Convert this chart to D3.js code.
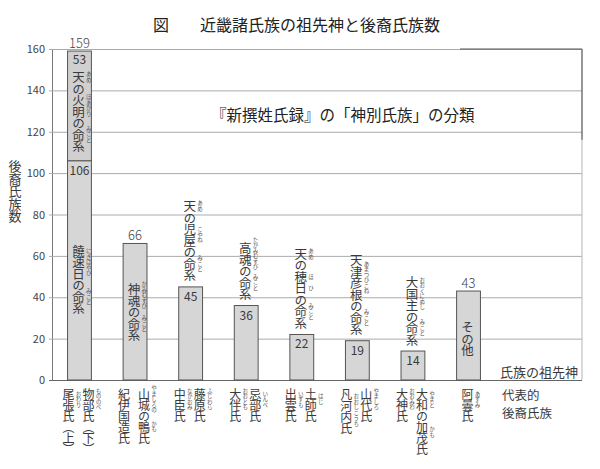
<!DOCTYPE html>
<html><head><meta charset="utf-8">
<script src="https://cdn.jsdelivr.net/npm/d3@7/dist/d3.min.js"></script>
<style>
body{margin:0;background:#fff}
svg{display:block}
text{font-family:"Noto Sans CJK JP","Noto Sans",sans-serif;}
</style>
</head><body>
<svg id="c" width="600" height="469"></svg>
<script>
// ---------- data ----------
const figLabel = "図";
const title = "近畿諸氏族の祖先神と後裔氏族数";
const subtitle = "『新撰姓氏録』の「神別氏族」の分類";
const yAxisTitle = "後裔氏族数";
const legendAncestor = "氏族の祖先神";
const legendClan = ["代表的", "後裔氏族"];

const categories = ["火明・饒速日", "神魂", "天の児屋", "高魂", "天の穂日", "天津彦根", "大国主", "その他"];
const baseValues  = [106, 66, 45, 36, 22, 19, 14, 43];
const stackValues = [53, 0, 0, 0, 0, 0, 0, 0];
const yTicks = [0, 20, 40, 60, 80, 100, 120, 140, 160];

// ancestor god names (vertical), with furigana [startChar, charCount, reading]
const upperName = "天の火明の命系";
const upperRuby = [[0, 1, "あめ"], [2, 2, "ほあかり"], [5, 1, "みこと"]];
const ancestorNames = ["饒速日の命系", "神魂の命系", "天の児屋の命系", "高魂の命系", "天の穂日の命系", "天津彦根の命系", "大国主の命系", "その他"];
const ancestorRuby = [
  [[0, 3, "にぎはやひ"], [4, 1, "みこと"]],
  [[0, 2, "かみむすび"], [3, 1, "みこと"]],
  [[0, 1, "あめ"], [2, 2, "こやね"], [5, 1, "みこと"]],
  [[0, 2, "たかみむすび"], [3, 1, "みこと"]],
  [[0, 1, "あめ"], [2, 1, "ほ"], [3, 1, "ひ"], [5, 1, "みこと"]],
  [[0, 4, "あまつひこね"], [5, 1, "みこと"]],
  [[0, 3, "おおくにぬし"], [4, 1, "みこと"]],
  []
];
// representative descendant clans (vertical columns under each bar)
const clanNames = [
  ["尾張氏（上）", "物部氏（下）"],
  ["紀伊国造氏", "山城の鴨氏"],
  ["中臣氏", "藤原氏"],
  ["大伴氏", "忌部氏"],
  ["出雲氏", "土師氏"],
  ["凡 河内氏", "山代氏"],
  ["大神氏", "大和の加茂氏"],
  ["阿曇氏"]
];
const clanRuby = [
  [[[0, 2, "おわり"]], [[0, 2, "もののべ"]]],
  [[], [[0, 2, "やましろの"], [3, 1, "かも"]]],
  [[[0, 2, "なかおみ"]], [[0, 2, "ふじわら"]]],
  [[[0, 2, "おおとも"]], [[0, 2, "いんべ"]]],
  [[[0, 2, "いずも"]], [[0, 2, "はじ"]]],
  [[[0, 4, "おおしこうち"]], [[0, 2, "やましろ"]]],
  [[[0, 2, "おおみわ"]], [[0, 2, "やまと"], [3, 2, "かも"]]],
  [[[0, 2, "あずみ"]]]
];

// ---------- drawing ----------
const svg = d3.select("#c");
const ink = "#3a3a3a";
const plotLeft = 52, plotRight = 582;
const y = d3.scaleLinear().domain([0, 160]).range([380, 49]);
const x = d3.scaleBand().domain(categories).range([plotLeft, 496]).paddingInner(0.571).paddingOuter(0.28);

svg.append("rect").attr("width", 600).attr("height", 469).attr("fill", "#fff");

// title
svg.append("text").attr("x", 153).attr("y", 31).attr("font-size", 16).attr("fill", "#222").text(figLabel);
svg.append("text").attr("x", 200).attr("y", 31).attr("font-size", 16).attr("fill", "#222").text(title);

// grid + y axis
const yAxis = d3.axisLeft(y).tickValues(yTicks).tickSizeInner(-(plotRight - plotLeft)).tickSizeOuter(0).tickPadding(7);
const gy = svg.append("g").attr("transform", `translate(${plotLeft},0)`).call(yAxis);
gy.select(".domain").attr("stroke", "#777");
gy.selectAll(".tick line").attr("stroke", "#ababab").attr("x1", -3);
gy.selectAll(".tick text").attr("font-family", "'Noto Sans',sans-serif").attr("font-size", 11).attr("fill", "#444");
gy.selectAll(".tick").filter(d => d === 0).select("line").attr("stroke", "#666");

// frame accents
svg.append("line").attr("x1", 460).attr("x2", plotRight).attr("y1", y(160)).attr("y2", y(160)).attr("stroke", "#555");
svg.append("line").attr("x1", plotRight).attr("x2", plotRight).attr("y1", y(160)).attr("y2", y(0)).attr("stroke", "#b5b5b5");
svg.append("line").attr("x1", plotRight).attr("x2", plotRight).attr("y1", y(160)).attr("y2", y(120) + 8).attr("stroke", "#555");

// subtitle
svg.append("text").attr("x", 211).attr("y", 121).attr("font-size", 15.5).attr("fill", "#222").text(subtitle);

// y axis title (vertical)
svg.append("text").attr("x", 15).attr("y", 160).attr("font-size", 13).attr("fill", ink)
  .attr("dominant-baseline", "central")
  .style("writing-mode", "vertical-rl").attr("letter-spacing", -0.5).text(yAxisTitle);

// bars
const bw = x.bandwidth();
svg.append("g").selectAll("rect").data(categories).join("rect")
  .attr("x", d => x(d)).attr("width", bw)
  .attr("y", (d, i) => y(baseValues[i])).attr("height", (d, i) => y(0) - y(baseValues[i]))
  .attr("fill", "#d6d6d6").attr("stroke", "#555").attr("stroke-width", 1);
svg.append("g").selectAll("rect").data(categories.filter((d, i) => stackValues[i] > 0)).join("rect")
  .attr("x", d => x(d)).attr("width", bw)
  .attr("y", d => { const i = categories.indexOf(d); return y(baseValues[i] + stackValues[i]); })
  .attr("height", d => { const i = categories.indexOf(d); return y(baseValues[i]) - y(baseValues[i] + stackValues[i]); })
  .attr("fill", "#d0d0d0").attr("stroke", "#555").attr("stroke-width", 1);

const cx = d => x(d) + bw / 2;

// value labels
categories.forEach((d, i) => {
  const tot = baseValues[i] + stackValues[i];
  if (stackValues[i] > 0) {
    svg.append("text").attr("x", cx(d)).attr("y", y(tot) - 3.5).attr("text-anchor", "middle")
      .attr("font-size", 13).attr("font-weight", 300).attr("fill", "#444").text(tot);
    svg.append("text").attr("x", cx(d)).attr("y", y(tot) + 13).attr("text-anchor", "middle")
      .attr("font-size", 12).attr("fill", ink).text(stackValues[i]);
    svg.append("text").attr("x", cx(d)).attr("y", y(baseValues[i]) + 14).attr("text-anchor", "middle")
      .attr("font-size", 12).attr("fill", ink).text(baseValues[i]);
  } else if (i === 1 || i === categories.length - 1) {
    svg.append("text").attr("x", cx(d)).attr("y", y(tot) - 3).attr("text-anchor", "middle")
      .attr("font-size", 13).attr("font-weight", 300).attr("fill", "#444").text(tot);
  } else {
    svg.append("text").attr("x", cx(d)).attr("y", y(tot) + 14).attr("text-anchor", "middle")
      .attr("font-size", 12).attr("fill", ink).text(tot);
  }
});

// vertical text with furigana
function vtext(text, ruby, xc, top, fs, ls, rubyFs) {
  const adv = fs + ls;
  svg.append("text").attr("x", xc).attr("y", top).attr("font-size", fs).attr("fill", ink)
    .attr("dominant-baseline", "central")
    .attr("letter-spacing", ls).style("writing-mode", "vertical-rl").text(text);
  ruby.forEach(([s, n, r]) => {
    const mid = top + (s + n / 2) * adv;
    const len = r.length * rubyFs;
    svg.append("text").attr("x", xc + fs / 2 + 4).attr("y", mid - len / 2)
      .attr("dominant-baseline", "central")
      .attr("font-size", rubyFs).attr("fill", "#555").style("writing-mode", "vertical-rl").text(r);
  });
  return text.length * adv;
}

const nameFs = 12.5, nameLs = -1;
const nameLen = s => s.length * (nameFs + nameLs);
// bar 1 upper segment
vtext(upperName, upperRuby, cx(categories[0]) - 1, y(159) + 20, nameFs, nameLs, 5.5);
categories.forEach((d, i) => {
  const nm = ancestorNames[i];
  let top;
  if (i === 0) top = y(baseValues[i]) + 84;               // inside lower segment
  else if (i === 1) top = y(baseValues[i]) + 40;          // inside bar
  else if (i === categories.length - 1) top = y(baseValues[i]) + 30; // inside bar
  else top = y(baseValues[i]) - 6 - nameLen(nm);          // above bar
  vtext(nm, ancestorRuby[i], cx(d) - 1, top, nameFs, nameLs, 5.5);
});

// clan names below axis
const clanFs = 12, clanLs = -1;
categories.forEach((d, i) => {
  const cols = clanNames[i];
  cols.forEach((c, j) => {
    const off = cols.length === 1 ? 0 : (j === 0 ? -10 : 10);
    vtext(c, clanRuby[i][j], cx(d) + off - 1, 388, clanFs, clanLs, 5.5);
  });
});

// legend-like labels at right
svg.append("text").attr("x", 500).attr("y", 377).attr("font-size", 13).attr("fill", ink).text(legendAncestor);
svg.append("text").attr("x", 502).attr("y", 400).attr("font-size", 12.5).attr("fill", ink).text(legendClan[0]);
svg.append("text").attr("x", 502).attr("y", 418).attr("font-size", 12.5).attr("fill", ink).text(legendClan[1]);
</script>
</body></html>
